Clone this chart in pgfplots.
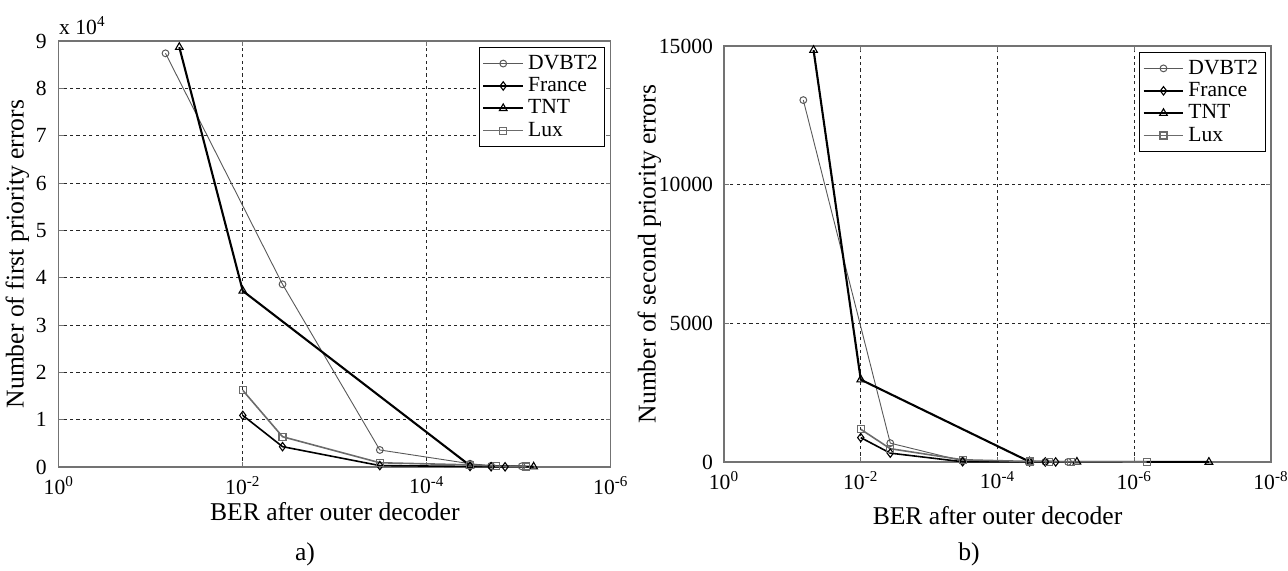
\documentclass[border=0pt]{standalone}
\usepackage{pgfplots}
\pgfplotsset{compat=1.18}
\usepackage{fontspec}
\setmainfont{Liberation Serif}
\definecolor{dgray}{gray}{0.35}
\definecolor{lgray}{gray}{0.42}
\definecolor{frame}{gray}{0.45}
\tikzset{
  sDV/.style={dgray, line width=0.45pt, mark=o, mark size=1.7pt, mark options={solid, line width=0.5pt}},
  sFR/.style={black, line width=0.8pt, mark=diamond, mark size=2.1pt, mark options={solid, line width=0.55pt}},
  sTN/.style={black, line width=1.05pt, mark=triangle, mark size=2.2pt, mark options={solid, line width=0.55pt}},
  sLU/.style={lgray, line width=0.8pt, mark=square, mark size=1.75pt, mark options={solid, line width=0.55pt}},
}
\begin{document}
\begin{tikzpicture}
\useasboundingbox (0,0) rectangle (644pt,285pt);
% ---------------- a) ----------------
\begin{axis}[
  name=A,
  scale only axis,
  xmode=log, x dir=reverse,
  xmin=1e-6, xmax=1,
  ymin=0, ymax=90000,
  scaled y ticks=false,
  grid=major,
  major grid style={dash pattern=on 1.6pt off 1.6pt, line width=0.45pt, black!85},
  axis line style={frame, line width=0.6pt},
  tick align=inside, major tick length=2.5pt, minor tick num=0,
  tick style={frame, line width=0.5pt},
  tick label style={font=\fontsize{10.8}{12}\selectfont, black},
  xticklabel style={yshift=-1pt},
  yticklabel style={xshift=-2.5pt},
  label style={font=\fontsize{12.8}{14}\selectfont},
  legend style={at={(rel axis cs:0.99,0.985)}, anchor=north east, draw=black, line width=0.5pt,
    font=\fontsize{10.8}{12}\selectfont, fill=white, inner sep=1.5pt, row sep=-1.4pt},
  legend cell align=left,
  legend image code/.code={\draw[mark repeat=2,mark phase=2] plot coordinates {(0cm,0cm) (0.35cm,0cm) (0.7cm,0cm)};},
  at={(29.4pt,51.5pt)}, anchor=south west,
  width=276pt, height=213pt,
  xtick={1e-6,1e-4,1e-2,1},
  xticklabels={10\textsuperscript{-6},10\textsuperscript{-4},10\textsuperscript{-2},10\textsuperscript{0}},
  ytick={0,10000,20000,30000,40000,50000,60000,70000,80000,90000},
  yticklabels={0,1,2,3,4,5,6,7,8,9},
  xlabel={BER after outer decoder},
  ylabel={Number of first priority errors},
  ylabel style={yshift=-3.5pt},
  xlabel style={at={(axis description cs:0.5,0)}, anchor=center, yshift=-22.5pt},
]
\addplot[sDV] coordinates {(0.0692,87400) (0.0037,38600) (3.24e-4,3600) (3.39e-5,700) (2.0e-5,250) (9.3e-6,150)};
\addlegendentry{DVBT2}
\addplot[sFR] coordinates {(0.01,10900) (0.0037,4300) (3.24e-4,300) (3.39e-5,120) (2.0e-5,60) (1.41e-5,40)};
\addlegendentry{France}
\addplot[sTN] coordinates {(0.049,88700) (0.01,37200) (3.39e-5,300) (6.9e-6,60)};
\addlegendentry{TNT}
\addplot[sLU] coordinates {(0.01,16200) (0.0037,6400) (3.24e-4,900) (3.39e-5,450) (1.78e-5,200) (8.3e-6,100)};
\addlegendentry{Lux}
\end{axis}
\node[anchor=south west, font=\fontsize{10.8}{12}\selectfont, inner sep=0pt] at ([yshift=3pt]A.north west) {x 10\textsuperscript{4}};
% ---------------- b) ----------------
\begin{axis}[
  scale only axis,
  xmode=log, x dir=reverse,
  xmin=1e-8, xmax=1,
  ymin=0, ymax=15000,
  scaled y ticks=false,
  grid=major,
  major grid style={dash pattern=on 1.6pt off 1.6pt, line width=0.45pt, black!85},
  axis line style={frame, line width=0.6pt},
  tick align=inside, major tick length=2.5pt, minor tick num=0,
  tick style={frame, line width=0.5pt},
  tick label style={font=\fontsize{10.8}{12}\selectfont, black},
  xticklabel style={yshift=-1pt},
  yticklabel style={xshift=-2pt},
  label style={font=\fontsize{12.8}{14}\selectfont},
  legend style={at={(rel axis cs:0.99,0.985)}, anchor=north east, draw=black, line width=0.5pt,
    font=\fontsize{10.8}{12}\selectfont, fill=white, inner sep=1.5pt, row sep=-1.4pt},
  legend cell align=left,
  legend image code/.code={\draw[mark repeat=2,mark phase=2] plot coordinates {(0cm,0cm) (0.35cm,0cm) (0.7cm,0cm)};},
  at={(362pt,54pt)}, anchor=south west,
  width=273.5pt, height=208pt,
  xtick={1e-8,1e-6,1e-4,1e-2,1},
  xticklabels={10\textsuperscript{-8},10\textsuperscript{-6},10\textsuperscript{-4},10\textsuperscript{-2},10\textsuperscript{0}},
  ytick={0,5000,10000,15000},
  yticklabels={0,5000,10000,15000},
  xlabel={BER after outer decoder},
  ylabel={Number of second priority errors},
  ylabel style={yshift=-8pt},
  xlabel style={at={(axis description cs:0.5,0)}, anchor=center, yshift=-27pt},
]
\addplot[sDV] coordinates {(0.0692,13050) (0.0037,680) (3.24e-4,40) (3.39e-5,10) (2.0e-5,5) (9.3e-6,3)};
\addlegendentry{DVBT2}
\addplot[sFR] coordinates {(0.01,880) (0.0037,320) (3.24e-4,10) (3.39e-5,5) (2.0e-5,3) (1.41e-5,2)};
\addlegendentry{France}
\addplot[sTN] coordinates {(0.049,14850) (0.01,2970) (3.39e-5,10) (6.9e-6,5) (8.1e-8,0)};
\addlegendentry{TNT}
\addplot[sLU] coordinates {(0.01,1180) (0.0037,480) (3.24e-4,80) (3.39e-5,20) (1.78e-5,10) (8.3e-6,5) (6.6e-7,1)};
\addlegendentry{Lux}
\end{axis}
\node[font=\fontsize{12.8}{14}\selectfont] at (152.5pt,8pt) {a)};
\node[font=\fontsize{12.8}{14}\selectfont] at (484.5pt,8pt) {b)};
\end{tikzpicture}
\end{document}
